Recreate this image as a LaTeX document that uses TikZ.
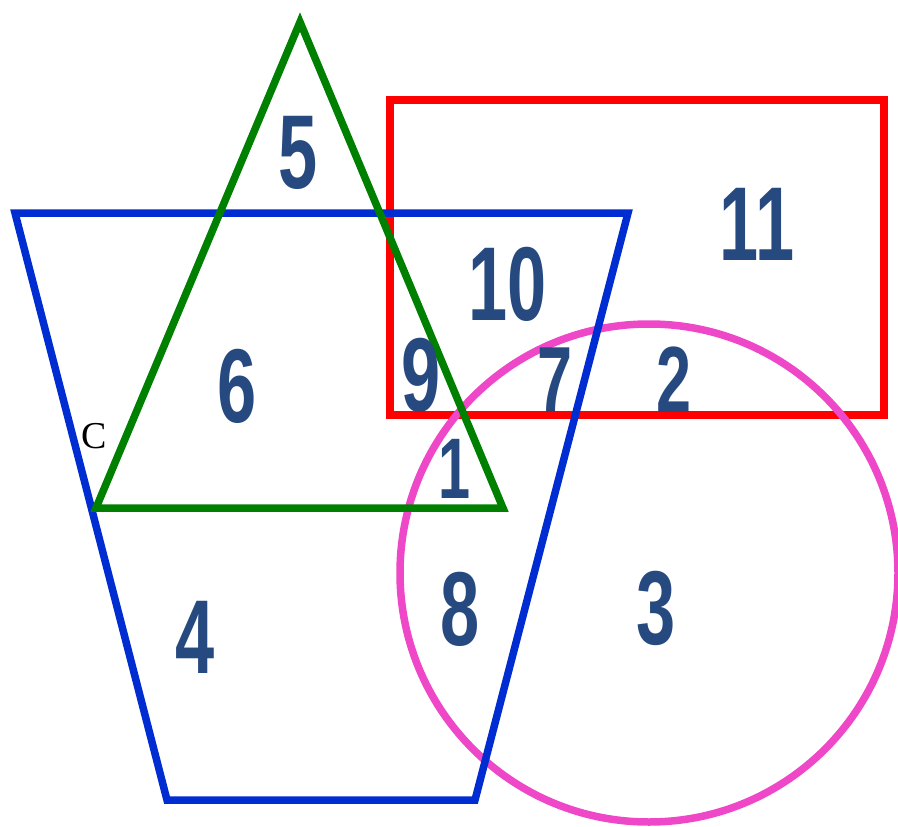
\documentclass[tikz,border=0pt]{standalone}
\usepackage{fontspec}
\newfontfamily\numfont[FakeStretch=0.67]{Liberation Sans Bold}
\newfontfamily\letterfont{Liberation Serif}
\definecolor{numcol}{RGB}{38,74,128}
\definecolor{trigreen}{RGB}{0,128,0}
\definecolor{trapblue}{RGB}{0,45,210}
\definecolor{rectred}{RGB}{255,0,0}
\definecolor{circpink}{RGB}{238,72,200}
\tikzset{
  shapeline/.style={line width=7.5pt, line join=miter},
  num/.style={anchor=base, inner sep=0pt, text=numcol, font=\numfont\fontsize{105}{105}\selectfont},
  numsmall/.style={num, font=\numfont\fontsize{94}{94}\selectfont},
  numtiny/.style={num, font=\numfont\fontsize{86}{86}\selectfont},
  letter/.style={anchor=base, inner sep=0pt, font=\letterfont\fontsize{38}{38}\selectfont}
}
\begin{document}
\begin{tikzpicture}[x=1pt,y=-1pt]
\useasboundingbox (0,0) rectangle (898,827);
% red rectangle
\draw[shapeline, draw=rectred] (390,100) rectangle (884,415);
% pink circle
\draw[shapeline, draw=circpink] (649,573) circle[radius=249];
% blue trapezoid
\draw[shapeline, draw=trapblue] (15,213) -- (628,213) -- (475,800) -- (167,800) -- cycle;
% green triangle
\draw[shapeline, draw=trigreen] (300,22) -- (503,508) -- (96,508) -- cycle;
% labels
\node[num] (n5) at (298,188) {5};
\node[num] (n11) at (757,260) {11};
\node[num] (n10) at (508,320) {10};
\node[num] (n6) at (237,422) {6};
\node[num] (n9) at (421,411) {9};
\node[numsmall] (n7) at (555,412) {7};
\node[numsmall] (n2) at (674,412) {2};
\node[numtiny] (n1) at (455,498) {1};
\node[num] (n8) at (460,645) {8};
\node[num] (n3) at (656,644) {3};
\node[num] (n4) at (195,673) {4};
\node[letter] (c) at (94,448) {C};
\end{tikzpicture}
\end{document}
